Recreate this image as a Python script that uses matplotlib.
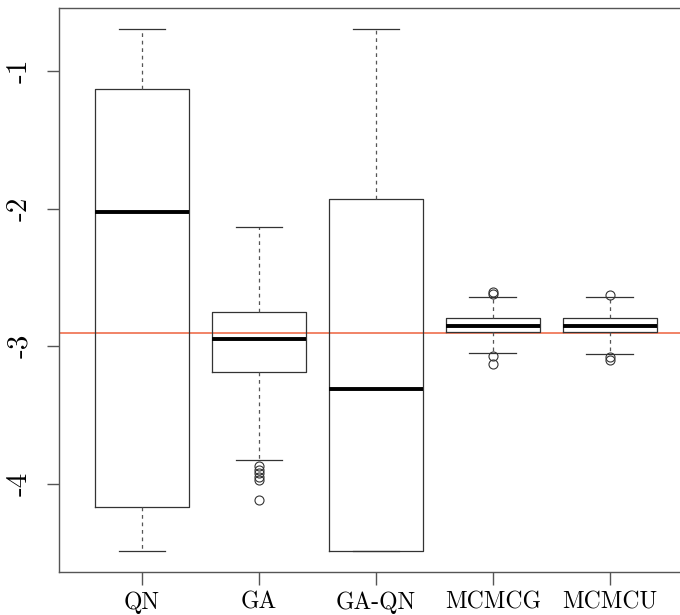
import matplotlib
matplotlib.use("Agg")
import matplotlib.pyplot as plt

plt.rcParams['font.family'] = ['cmr10', 'DejaVu Serif']

methods = ['QN', 'GA', 'GA-QN', 'MCMCG', 'MCMCU']
whislo = [-4.489, -3.826, -4.489, -3.048, -3.059]
q1 = [-4.168, -3.185, -4.489, -2.896, -2.896]
med = [-2.027, -2.945, -3.309, -2.850, -2.850]
q3 = [-1.131, -2.748, -1.932, -2.794, -2.794]
whishi = [-0.694, -2.136, -0.694, -2.641, -2.641]
fliers = [
    [],
    [-3.87, -3.90, -3.92, -3.95, -3.97, -4.117],
    [],
    [-2.605, -2.617, -3.068, -3.127],
    [-2.629, -3.078, -3.098],
]
ref_value = -2.905
yticks = [-4, -3, -2, -1]

stats = []
for i in range(len(methods)):
    stats.append(dict(label=methods[i], whislo=whislo[i], q1=q1[i], med=med[i],
                      q3=q3[i], whishi=whishi[i], fliers=fliers[i]))

fig = plt.figure(figsize=(6.8, 6.15), dpi=100)
ax = fig.add_axes([0.0868, 0.0699, 0.9132, 0.9171])

grey = '#555555'
ax.bxp(stats, positions=range(1, 6), widths=0.8, showfliers=True,
       boxprops=dict(color='#333333', linewidth=0.9),
       medianprops=dict(color='black', linewidth=2.8, solid_capstyle='butt'),
       whiskerprops=dict(color=grey, linewidth=0.9, linestyle=(0, (3, 3))),
       capprops=dict(color='#333333', linewidth=0.9),
       capwidths=0.4,
       flierprops=dict(marker='o', markerfacecolor='none', markeredgecolor='#333333',
                       markersize=6.5, markeredgewidth=0.8))

ax.axhline(ref_value, color='#F07A5A', linewidth=1.3, zorder=0)

ax.set_xlim(0.29, 5.6)
ax.set_ylim(-4.641, -0.542)
ax.set_yticks(yticks)
ax.set_yticklabels([str(v) for v in yticks], rotation=90, va='center', fontsize=21)
ax.set_xticks(range(1, 6))
ax.set_xticklabels(methods, fontsize=17)
ax.tick_params(axis='both', length=9, width=1, color=grey, direction='out')
ax.tick_params(axis='x', pad=5)
ax.tick_params(axis='y', pad=10)

for s in ['left', 'top', 'bottom']:
    ax.spines[s].set_color(grey)
    ax.spines[s].set_linewidth(1)
ax.spines['right'].set_visible(False)

fig.savefig('out.png', dpi=100)
plt.close(fig)
